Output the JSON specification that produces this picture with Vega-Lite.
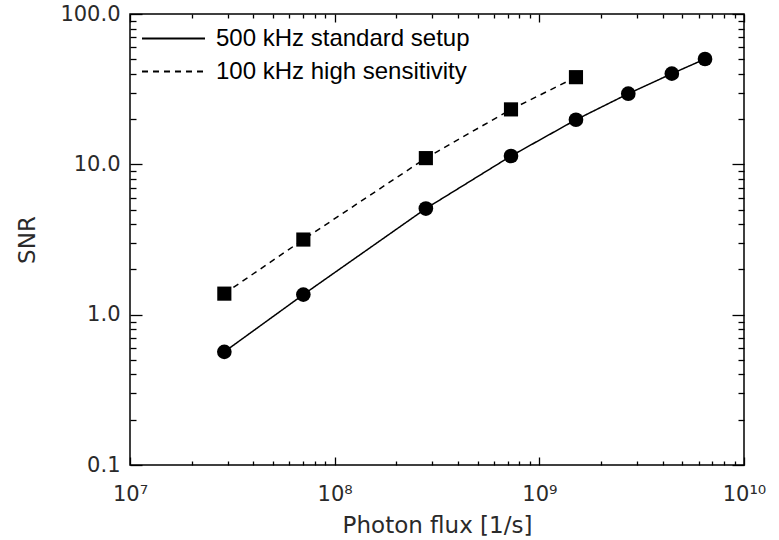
{
  "$schema": "https://vega.github.io/schema/vega-lite/v6.json",
  "width": 614,
  "height": 451,
  "autosize": {"type": "none"},
  "padding": {"left": 130, "top": 14, "right": 35, "bottom": 75},
  "background": "white",
  "data": {
    "values": [
      {"setup": "500 kHz standard setup", "flux": 2.89e7, "snr": 0.566},
      {"setup": "500 kHz standard setup", "flux": 7.03e7, "snr": 1.36},
      {"setup": "500 kHz standard setup", "flux": 2.79e8, "snr": 5.08},
      {"setup": "500 kHz standard setup", "flux": 7.27e8, "snr": 11.36},
      {"setup": "500 kHz standard setup", "flux": 1.51e9, "snr": 19.8},
      {"setup": "500 kHz standard setup", "flux": 2.72e9, "snr": 29.5},
      {"setup": "500 kHz standard setup", "flux": 4.44e9, "snr": 40.1},
      {"setup": "500 kHz standard setup", "flux": 6.45e9, "snr": 50.2},
      {"setup": "100 kHz high sensitivity", "flux": 2.89e7, "snr": 1.38},
      {"setup": "100 kHz high sensitivity", "flux": 7.03e7, "snr": 3.16},
      {"setup": "100 kHz high sensitivity", "flux": 2.79e8, "snr": 11.0},
      {"setup": "100 kHz high sensitivity", "flux": 7.27e8, "snr": 23.2},
      {"setup": "100 kHz high sensitivity", "flux": 1.51e9, "snr": 38.0}
    ]
  },
  "config": {
    "view": {"stroke": "black", "strokeWidth": 1.5},
    "axis": {
      "grid": false,
      "domain": false,
      "tickColor": "black",
      "tickWidth": 1.3,
      "labelFont": "DejaVu Sans",
      "labelFontSize": 21,
      "labelColor": "#2a2a2a",
      "labelOverlap": false,
      "labelFlush": false,
      "labelBound": false,
      "titleFont": "DejaVu Sans",
      "titleFontSize": 23,
      "titleFontWeight": "normal",
      "titleColor": "#2a2a2a"
    },
    "legend": {
      "orient": "none",
      "legendX": 11,
      "legendY": 8,
      "padding": 0,
      "symbolType": "stroke",
      "symbolSize": 3969,
      "symbolStrokeWidth": 2,
      "symbolStrokeColor": "black",
      "symbolFillColor": "transparent",
      "labelFont": "Liberation Sans",
      "labelFontSize": 24,
      "labelColor": "black",
      "labelOffset": 10,
      "labelLimit": 400,
      "clipHeight": 33,
      "rowPadding": 0
    }
  },
  "layer": [
    {
      "mark": {"type": "line", "color": "black", "strokeWidth": 1.5},
      "encoding": {
        "x": {
          "field": "flux", "type": "quantitative",
          "scale": {"type": "log", "domain": [1e7, 1e10], "nice": false},
          "axis": {
            "orient": "bottom",
            "title": "Photon flux [1/s]",
            "titlePadding": 10,
            "values": [1e7, 1e8, 1e9, 1e10],
            "labelExpr": "datum.value == 1e7 ? '10⁷' : datum.value == 1e8 ? '10⁸' : datum.value == 1e9 ? '10⁹' : '10¹⁰'",
            "tickSize": -8,
            "labelPadding": 26
          }
        },
        "y": {
          "field": "snr", "type": "quantitative",
          "scale": {"type": "log", "domain": [0.1, 100], "nice": false},
          "axis": {
            "orient": "left",
            "title": "SNR",
            "titlePadding": 20,
            "values": [0.1, 1, 10, 100],
            "labelExpr": "datum.value == 0.1 ? '0.1' : datum.value == 1 ? '1.0' : datum.value == 10 ? '10.0' : '100.0'",
            "tickSize": -12,
            "labelPadding": 22
          }
        },
        "strokeDash": {
          "field": "setup", "type": "nominal",
          "scale": {"domain": ["500 kHz standard setup", "100 kHz high sensitivity"], "range": [[1, 0], [6, 5]]},
          "legend": {"title": null, "symbolType": "stroke"}
        }
      }
    },
    {
      "transform": [{"filter": "datum.setup == '500 kHz standard setup'"}],
      "mark": {"type": "point", "shape": "circle", "size": 215, "filled": true, "color": "black", "opacity": 1},
      "encoding": {
        "x": {"field": "flux", "type": "quantitative", "axis": null},
        "y": {"field": "snr", "type": "quantitative", "axis": null}
      }
    },
    {
      "transform": [{"filter": "datum.setup == '100 kHz high sensitivity'"}],
      "mark": {"type": "point", "shape": "square", "size": 200, "filled": true, "color": "black", "opacity": 1},
      "encoding": {
        "x": {"field": "flux", "type": "quantitative", "axis": null},
        "y": {"field": "snr", "type": "quantitative", "axis": null}
      }
    },
    {
      "mark": {"type": "point", "opacity": 0},
      "encoding": {
        "x": {
          "field": "flux", "type": "quantitative",
          "axis": {
            "orient": "bottom", "title": null, "labels": false,
            "values": [2e7, 3e7, 4e7, 5e7, 6e7, 7e7, 8e7, 9e7, 2e8, 3e8, 4e8, 5e8, 6e8, 7e8, 8e8, 9e8, 2e9, 3e9, 4e9, 5e9, 6e9, 7e9, 8e9, 9e9],
            "tickSize": -4
          }
        },
        "y": {
          "field": "snr", "type": "quantitative",
          "axis": {
            "orient": "left", "title": null, "labels": false,
            "values": [0.2, 0.3, 0.4, 0.5, 0.6, 0.7, 0.8, 0.9, 2, 3, 4, 5, 6, 7, 8, 9, 20, 30, 40, 50, 60, 70, 80, 90],
            "tickSize": -6
          }
        }
      }
    },
    {
      "mark": {"type": "point", "opacity": 0},
      "encoding": {
        "x": {
          "field": "flux", "type": "quantitative",
          "axis": {
            "orient": "top", "title": null, "labels": false,
            "values": [1e7, 1e8, 1e9, 1e10],
            "tickSize": -8
          }
        },
        "y": {
          "field": "snr", "type": "quantitative",
          "axis": {
            "orient": "right", "title": null, "labels": false,
            "values": [0.1, 1, 10, 100],
            "tickSize": -12
          }
        }
      }
    },
    {
      "mark": {"type": "point", "opacity": 0},
      "encoding": {
        "x": {
          "field": "flux", "type": "quantitative",
          "axis": {
            "orient": "top", "title": null, "labels": false,
            "values": [2e7, 3e7, 4e7, 5e7, 6e7, 7e7, 8e7, 9e7, 2e8, 3e8, 4e8, 5e8, 6e8, 7e8, 8e8, 9e8, 2e9, 3e9, 4e9, 5e9, 6e9, 7e9, 8e9, 9e9],
            "tickSize": -4
          }
        },
        "y": {
          "field": "snr", "type": "quantitative",
          "axis": {
            "orient": "right", "title": null, "labels": false,
            "values": [0.2, 0.3, 0.4, 0.5, 0.6, 0.7, 0.8, 0.9, 2, 3, 4, 5, 6, 7, 8, 9, 20, 30, 40, 50, 60, 70, 80, 90],
            "tickSize": -6
          }
        }
      }
    }
  ],
  "resolve": {"axis": {"x": "independent", "y": "independent"}}
}
